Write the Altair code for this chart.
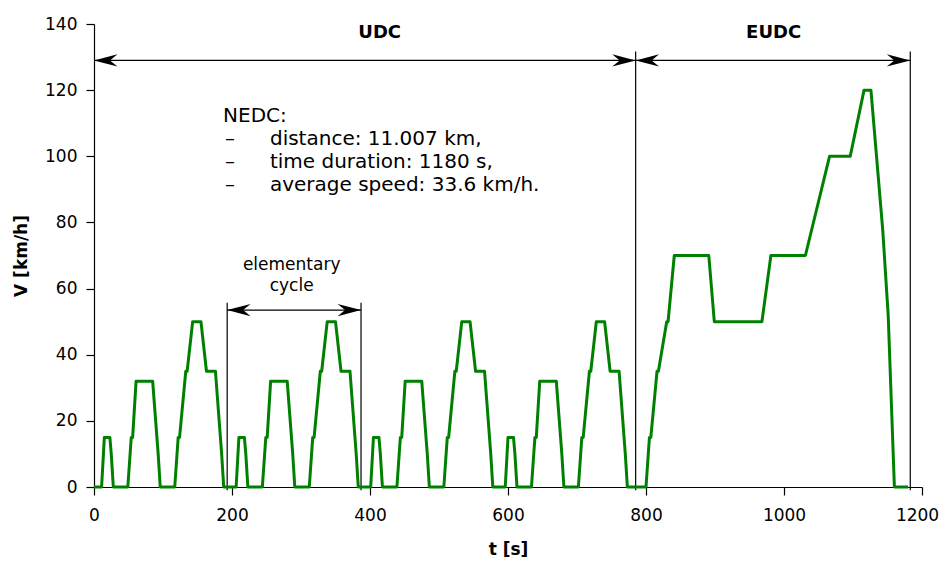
import altair as alt
import pandas as pd

# ---- NEDC speed trace (time [s], speed [km/h]) ----
time_s = [
    0, 11, 15, 23, 25, 28, 49, 54, 56, 61, 85, 93, 96, 117, 122, 124, 133, 135, 143, 155, 163, 176, 185, 188,
    195, 206, 210, 218, 220, 223, 244, 249, 251, 256, 280, 288, 291, 312, 317, 319, 328, 330, 338, 350, 358, 371, 380, 383,
    390, 401, 405, 413, 415, 418, 439, 444, 446, 451, 475, 483, 486, 507, 512, 514, 523, 525, 533, 545, 553, 566, 575, 578,
    585, 596, 600, 608, 610, 613, 634, 639, 641, 646, 670, 678, 681, 702, 707, 709, 718, 720, 728, 740, 748, 761, 770, 773,
    780, 800, 805, 807, 816, 818, 830, 832, 841, 891, 899, 968, 981, 1031, 1066, 1096, 1116, 1126, 1143, 1151, 1160, 1180,
]
speed_kmh = [
    0, 0, 15, 15, 10, 0, 0, 15, 15, 32, 32, 10, 0, 0, 15, 15, 35, 35, 50, 50, 35, 35, 10, 0,
    0, 0, 15, 15, 10, 0, 0, 15, 15, 32, 32, 10, 0, 0, 15, 15, 35, 35, 50, 50, 35, 35, 10, 0,
    0, 0, 15, 15, 10, 0, 0, 15, 15, 32, 32, 10, 0, 0, 15, 15, 35, 35, 50, 50, 35, 35, 10, 0,
    0, 0, 15, 15, 10, 0, 0, 15, 15, 32, 32, 10, 0, 0, 15, 15, 35, 35, 50, 50, 35, 35, 10, 0,
    0, 0, 15, 15, 35, 35, 50, 50, 70, 70, 50, 50, 70, 70, 100, 100, 120, 120, 78, 52, 0, 0,
]

x_ticks = [0, 200, 400, 600, 800, 1000, 1200]
y_ticks = [0, 20, 40, 60, 80, 100, 120, 140]

# ---- annotation geometry (data units) ----
rule_t = [0, 785, 193, 785, 1183, 193, 387]
rule_t2 = [785, 1183, 387, 785, 1183, 193, 387]
rule_v = [129, 129, 53.5, -1, -1, -1, -1]
rule_v2 = [129, 129, 53.5, 131.7, 131.7, 55.7, 55.7]

arrow_left_t = [0, 785, 193]
arrow_left_v = [129, 129, 53.5]
arrow_right_t = [785, 1183, 387]
arrow_right_v = [129, 129, 53.5]

section_labels = ["UDC", "EUDC"]
section_t = [414, 985]
section_v = [135.7, 135.7]

cycle_labels = ["elementary", "cycle"]
cycle_t = [286.5, 286.5]
cycle_v = [65.6, 59.3]

info_head = ["NEDC:"]
info_head_t = [187]
info_head_v = [110.5]
info_lines = ["distance: 11.007 km,", "time duration: 1180 s,", "average speed: 33.6 km/h."]
info_dash = ["\u2013", "\u2013", "\u2013"]
info_dash_t = [190, 190, 190]
info_text_t = [255, 255, 255]
info_v = [103.4, 96.5, 89.5]

FONT = "DejaVu Sans"
GREEN = "#008000"

xs = alt.Scale(domain=[0, 1200], nice=False, zero=False)
ys = alt.Scale(domain=[0, 140], nice=False, zero=False)

x_axis = alt.Axis(
    values=x_ticks,
    format="d",
    title="t [s]",
    labelFlush=False,
    labelPadding=12,
    labelOffset={"condition": {"test": "datum.value == 1200", "value": -5}, "value": 0},
    titlePadding=18,
)
y_axis = alt.Axis(values=y_ticks, format="d", title="V [km/h]", labelPadding=9, titlePadding=14)

trace = pd.DataFrame({"t": time_s, "v": speed_kmh})
line = alt.Chart(trace).mark_line(color=GREEN, strokeWidth=3, strokeJoin="round").encode(
    x=alt.X("t:Q", scale=xs, axis=x_axis),
    y=alt.Y("v:Q", scale=ys, axis=y_axis),
)

rules_df = pd.DataFrame({"t": rule_t, "t2": rule_t2, "v": rule_v, "v2": rule_v2})
rules = alt.Chart(rules_df).mark_rule(color="black", strokeWidth=1.2).encode(
    x=alt.X("t:Q", scale=xs, title="t [s]"),
    x2="t2:Q",
    y=alt.Y("v:Q", scale=ys, title="V [km/h]"),
    y2="v2:Q",
)

LEFT_HEAD = "M0,0L1,-0.26L0.68,0L1,0.26Z"
RIGHT_HEAD = "M0,0L-1,-0.26L-0.68,0L-1,0.26Z"

heads_l = alt.Chart(pd.DataFrame({"t": arrow_left_t, "v": arrow_left_v})).mark_point(
    shape=LEFT_HEAD, filled=True, size=2200, color="black", opacity=1, strokeWidth=0
).encode(x=alt.X("t:Q", scale=xs, title="t [s]"), y=alt.Y("v:Q", scale=ys, title="V [km/h]"))

heads_r = alt.Chart(pd.DataFrame({"t": arrow_right_t, "v": arrow_right_v})).mark_point(
    shape=RIGHT_HEAD, filled=True, size=2200, color="black", opacity=1, strokeWidth=0
).encode(x=alt.X("t:Q", scale=xs, title="t [s]"), y=alt.Y("v:Q", scale=ys, title="V [km/h]"))

sections = alt.Chart(pd.DataFrame({"t": section_t, "v": section_v, "label": section_labels})).mark_text(
    font=FONT, fontSize=18, fontWeight="bold", align="center", baseline="alphabetic", color="black"
).encode(x=alt.X("t:Q", scale=xs, title="t [s]"), y=alt.Y("v:Q", scale=ys, title="V [km/h]"), text="label:N")

cycle_txt = alt.Chart(pd.DataFrame({"t": cycle_t, "v": cycle_v, "label": cycle_labels})).mark_text(
    font=FONT, fontSize=17, align="center", baseline="alphabetic", color="black"
).encode(x=alt.X("t:Q", scale=xs, title="t [s]"), y=alt.Y("v:Q", scale=ys, title="V [km/h]"), text="label:N")

head_txt = alt.Chart(pd.DataFrame({"t": info_head_t, "v": info_head_v, "label": info_head})).mark_text(
    font=FONT, fontSize=20, align="left", baseline="alphabetic", color="black"
).encode(x=alt.X("t:Q", scale=xs, title="t [s]"), y=alt.Y("v:Q", scale=ys, title="V [km/h]"), text="label:N")

dash_txt = alt.Chart(pd.DataFrame({"t": info_dash_t, "v": info_v, "label": info_dash})).mark_text(
    font=FONT, fontSize=20, align="left", baseline="alphabetic", color="black"
).encode(x=alt.X("t:Q", scale=xs, title="t [s]"), y=alt.Y("v:Q", scale=ys, title="V [km/h]"), text="label:N")

list_txt = alt.Chart(pd.DataFrame({"t": info_text_t, "v": info_v, "label": info_lines})).mark_text(
    font=FONT, fontSize=20, align="left", baseline="alphabetic", color="black"
).encode(x=alt.X("t:Q", scale=xs, title="t [s]"), y=alt.Y("v:Q", scale=ys, title="V [km/h]"), text="label:N")

chart = (
    alt.layer(rules, heads_l, heads_r, line, sections, cycle_txt, head_txt, dash_txt, list_txt)
    .properties(
        width=828,
        height=463,
        autosize=alt.AutoSizeParams(type="none"),
        padding={"left": 86, "top": 16, "right": 17, "bottom": 74},
    )
    .configure_view(strokeWidth=0)
    .configure_axis(
        labelFont=FONT,
        titleFont=FONT,
        labelFontSize=17,
        titleFontSize=17,
        titleFontWeight="bold",
        labelColor="black",
        titleColor="black",
        domainColor="black",
        tickColor="black",
        domainWidth=1.2,
        tickWidth=1.2,
        tickSize=8,
        grid=False,
    )
)

chart.save("out.html", embed_options={"renderer": "svg", "actions": False})
